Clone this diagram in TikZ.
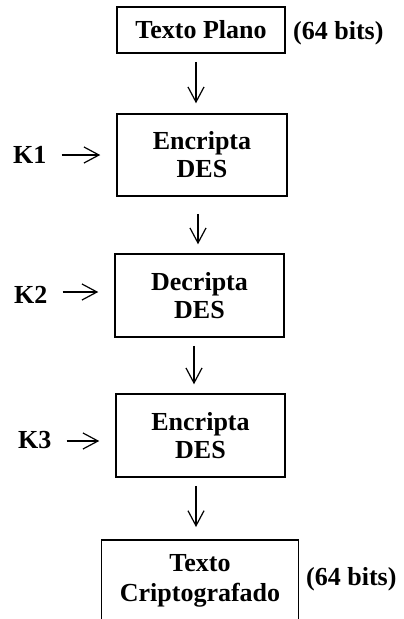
\documentclass[tikz,border=0pt]{standalone}
\usepackage{fontspec}
\setmainfont{Liberation Serif}
\usetikzlibrary{arrows.meta}
\begin{document}
\begin{tikzpicture}[x=1pt,y=-1pt,
  every node/.style={font=\fontsize{26}{28}\selectfont\bfseries, inner sep=0pt},
  stage/.style={draw, line width=1.5pt, align=center},
  flow/.style={line width=1.2pt, -{Straight Barb[length=15pt,width=16pt,line width=1.2pt]}},
  keyin/.style={flow, shorten <=15pt, shorten >=16pt}
]
\useasboundingbox (0,0) rectangle (404,619);
\clip (0,0) rectangle (404,619);

% the cipher stages
\node[stage, minimum width=168pt, minimum height=46pt] (plain) at (201,30) {Texto Plano};
\node[stage, minimum width=170pt, minimum height=82pt] (enc1) at (202,155) {Encripta\\DES};
\node[stage, minimum width=169pt, minimum height=83pt] (dec) at (199.5,295.5) {Decripta\\DES};
\node[stage, minimum width=169pt, minimum height=83pt] (enc2) at (200.5,435.5) {Encripta\\DES};
\node[stage, minimum width=197pt, minimum height=82pt, anchor=north] (cipher) at (200,539)
  {Texto\\[2pt]Criptografado};

% block sizes
\node[anchor=base west] (sz1) at (293,39) {(64 bits)};
\node[anchor=base west] (sz2) at (306,585) {(64 bits)};

% keys
\node[anchor=west] (k1) at (13,155) {K1};
\node[anchor=west] (k2) at (14,295) {K2};
\node[anchor=west] (k3) at (18,440) {K3};

% data flow between stages
\draw[flow, shorten <=8pt, shorten >=10pt] ([xshift=-5pt]plain.south) -- ([xshift=-6pt]enc1.north);
\draw[flow, shorten <=17pt, shorten >=9pt] ([xshift=-4pt]enc1.south) -- ([xshift=-1.5pt]dec.north);
\draw[flow, shorten <=8pt, shorten >=9pt] ([xshift=-5.5pt]dec.south) -- ([xshift=-6.5pt]enc2.north);
\draw[flow, shorten <=8pt, shorten >=12pt] ([xshift=-4.5pt]enc2.south) -- ([xshift=-4pt]cipher.north);

% key inputs
\draw[keyin] (k1.east) -- (k1.east -| enc1.west);
\draw[keyin] ([yshift=3pt]k2.east) -- ([yshift=3pt]k2.east -| dec.west);
\draw[keyin] ([yshift=-1pt]k3.east) -- ([yshift=-1pt]k3.east -| enc2.west);
\end{tikzpicture}
\end{document}
